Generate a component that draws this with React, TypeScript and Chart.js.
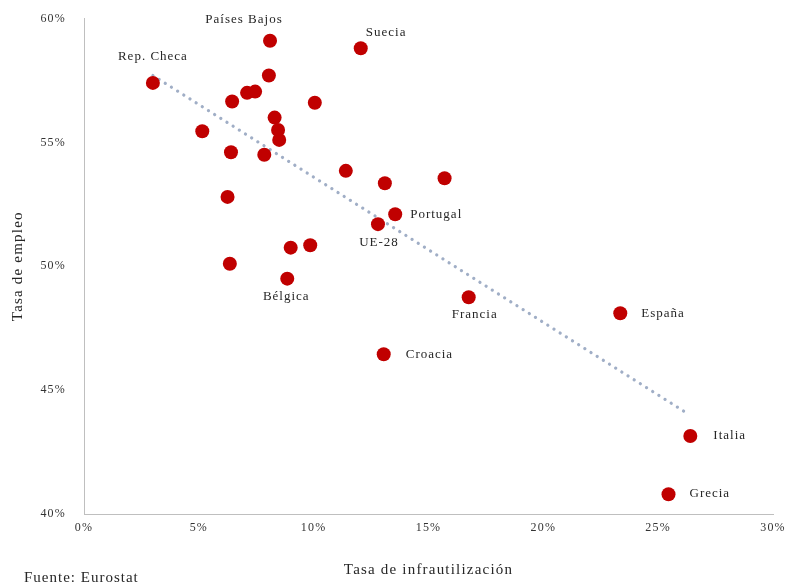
import React, { useEffect, useRef } from "react";
import { Chart, registerables } from "chart.js";

Chart.register(...registerables);

// Data
const countries = [
  "Rep. Checa", "Países Bajos", "Suecia", "", "", "", "", "", "", "", "", "", "", "",
  "", "", "", "", "Portugal", "UE-28", "", "", "", "Bélgica", "Francia", "España",
  "Croacia", "Italia", "Grecia",
];
const underutilization = [
  3.0, 8.1, 12.05, 8.05, 7.1, 7.45, 6.45, 10.05, 8.3, 8.45, 8.5, 5.15, 6.4, 7.85,
  11.4, 13.1, 15.7, 6.25, 13.55, 12.8, 6.35, 9.0, 9.85, 8.85, 16.75, 23.35,
  13.05, 26.4, 25.45,
];
const employment = [
  57.4, 59.1, 58.8, 57.7, 57.0, 57.05, 56.65, 56.6, 56.0, 55.5, 55.1, 55.45, 54.6,
  54.5, 53.85, 53.35, 53.55, 52.8, 52.1, 51.7, 50.1, 50.75, 50.85, 49.5, 48.75,
  48.1, 46.45, 43.15, 40.8,
];
const trendX = [3.0, 26.2];
const trendY = [57.7, 44.1];
const xTicks = [0, 5, 10, 15, 20, 25, 30];
const yTicks = [40, 45, 50, 55, 60];

// Label placement (style only): dx, dy, align
const labelPlacement: Record<string, [number, number, CanvasTextAlign]> = {
  "Rep. Checa": [0, -26, "center"],
  "Países Bajos": [-26, -21, "center"],
  "Suecia": [5, -16, "left"],
  "Portugal": [15, 0, "left"],
  "UE-28": [1, 18, "center"],
  "Bélgica": [-1, 18, "center"],
  "Francia": [6, 17, "center"],
  "España": [21, 0, "left"],
  "Croacia": [22, 0, "left"],
  "Italia": [23, 0, "left"],
  "Grecia": [21, -1, "left"],
};

const SERIF = "'Liberation Serif', 'DejaVu Serif', serif";

const spacingPlugin = {
  id: "letterSpacing",
  beforeDraw(chart: any) {
    chart.ctx.letterSpacing = "1.2px";
  },
};

const labelPlugin = {
  id: "pointLabels",
  afterDatasetsDraw(chart: any) {
    const { ctx } = chart;
    const meta = chart.getDatasetMeta(1);
    ctx.save();
    ctx.letterSpacing = "1px";
    ctx.font = `13px ${SERIF}`;
    ctx.fillStyle = "#262626";
    ctx.textBaseline = "middle";
    meta.data.forEach((el: any, i: number) => {
      const name = countries[i];
      if (!name) return;
      const p = labelPlacement[name] || [10, 0, "left"];
      ctx.textAlign = p[2];
      ctx.fillText(name, el.x + p[0], el.y + p[1]);
    });
    ctx.font = `15px ${SERIF}`;
    ctx.textAlign = "left";
    ctx.fillText("Fuente: Eurostat", 24, 578);
    ctx.restore();
  },
};

export default function App() {
  const ref = useRef<HTMLCanvasElement | null>(null);
  useEffect(() => {
    document.body.style.margin = "0";
    if (!ref.current) return;
    const chart = new Chart(ref.current, {
      type: "scatter",
      data: {
        datasets: [
          {
            type: "line",
            data: trendX.map((x, i) => ({ x, y: trendY[i] })),
            borderColor: "#A0AEC6",
            borderWidth: 3.2,
            borderDash: [0.1, 7.2],
            borderCapStyle: "round",
            pointRadius: 0,
            fill: false,
            order: 2,
          } as any,
          {
            data: underutilization.map((x, i) => ({ x, y: employment[i] })),
            backgroundColor: "#C00000",
            borderWidth: 0,
            pointRadius: 7,
            pointHoverRadius: 7,
            order: 1,
          },
        ],
      },
      options: {
        animation: false,
        responsive: true,
        maintainAspectRatio: false,
        layout: { padding: { top: 18.5, right: 15, left: 0, bottom: 0 } },
        plugins: { legend: { display: false }, tooltip: { enabled: false } },
        scales: {
          x: {
            type: "linear",
            min: 0,
            max: 30,
            afterBuildTicks: (s: any) => { s.ticks = xTicks.map((v) => ({ value: v })); },
            afterFit: (s: any) => { s.height = 73; },
            grid: { display: false, drawTicks: false },
            border: { display: true, color: "#BFBFBF", width: 1 },
            ticks: {
              padding: 7,
              color: "#333",
              font: { family: SERIF, size: 12 },
              callback: (v: any) => `${v}%`,
              maxRotation: 0,
            },
            title: {
              display: true,
              text: "Tasa de infrautilización",
              color: "#262626",
              font: { family: SERIF, size: 15 },
              padding: { top: 0, bottom: 8 },
            },
          },
          y: {
            type: "linear",
            min: 40,
            max: 60,
            afterBuildTicks: (s: any) => { s.ticks = yTicks.map((v) => ({ value: v })); },
            afterFit: (s: any) => {
              s.width = 84;
              s.paddingTop = 0;
              s.paddingBottom = 0;
            },
            grid: { display: false, drawTicks: false },
            border: { display: true, color: "#BFBFBF", width: 1 },
            ticks: {
              padding: 18,
              color: "#333",
              font: { family: SERIF, size: 12 },
              callback: (v: any) => `${v}%`,
            },
            title: {
              display: true,
              text: "Tasa de empleo",
              color: "#262626",
              font: { family: SERIF, size: 15 },
              padding: { top: 9, bottom: 0 },
            },
          },
        },
      },
      plugins: [spacingPlugin, labelPlugin],
    });
    return () => chart.destroy();
  }, []);
  return (
    <div style={{ width: 791, height: 587, position: "relative", background: "#fff" }}>
      <canvas ref={ref} />
    </div>
  );
}
